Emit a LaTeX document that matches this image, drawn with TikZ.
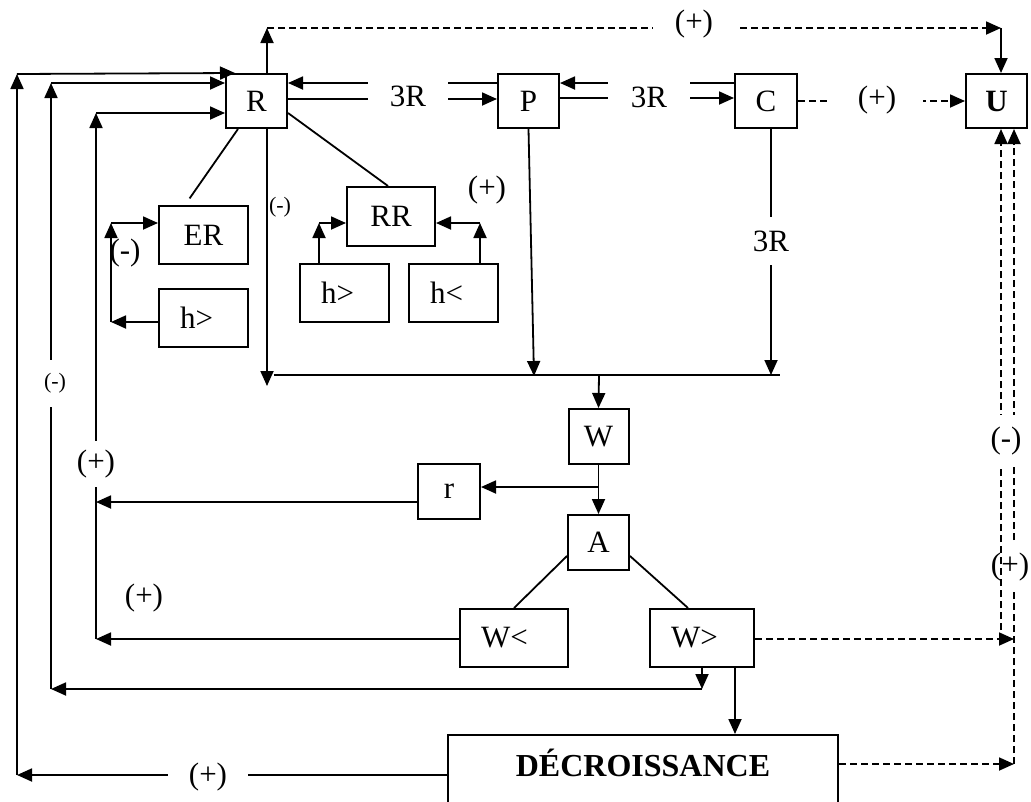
\documentclass[tikz,border=0pt]{standalone}
\usepackage{fontspec}
\setmainfont{Liberation Serif}
\usetikzlibrary{arrows.meta,calc}
\begin{document}
\begin{tikzpicture}[x=1pt,y=-1pt,
  line width=1.8pt,
  arr/.style={-{Triangle[length=15pt,width=13pt]}},
  dsh/.style={dash pattern=on 7pt off 4pt},
  box/.style={draw,line width=2pt,inner sep=0pt,font=\fontsize{31}{36}\selectfont},
  lbox/.style={box,align=left,text width=#1,inner xsep=21pt},
  lbl/.style={inner sep=0pt,font=\fontsize{31}{36}\selectfont},
  slbl/.style={inner sep=0pt,font=\fontsize{22}{26}\selectfont},
  gap/.style={fill=white}
]
\clip (0,0) rectangle (1031,801);

% boxes
\node[box,minimum width=61pt,minimum height=54pt] (R) at (256.5,101) {R};
\node[box,minimum width=61pt,minimum height=54pt] (P) at (528.5,101) {P};
\node[box,minimum width=62pt,minimum height=54pt] (C) at (766,101) {C};
\node[box,minimum width=61pt,minimum height=54pt,font=\fontsize{31}{36}\selectfont\bfseries] (U) at (996.5,101) {U};
\node[box,minimum width=89pt,minimum height=58pt] (ER) at (203.5,235) {ER};
\node[lbox=47pt,minimum height=58pt] (h1) at (203.5,318) {h>};
\node[box,minimum width=88pt,minimum height=59pt] (RR) at (391,216.5) {RR};
\node[lbox=47pt,minimum height=58pt] (h2) at (344.5,293) {h>};
\node[lbox=47pt,minimum height=58pt] (h3) at (453.5,293) {h<};
\node[box,minimum width=62pt,minimum height=55pt] (r) at (449,491.5) {r};
\node[box,minimum width=60pt,minimum height=55pt] (W) at (598.5,436.5) {W};
\node[box,minimum width=61pt,minimum height=55pt] (A) at (598.5,542.5) {A};
\node[lbox=66pt,minimum height=58pt] (Wl) at (514,638) {W<};
\node[lbox=62pt,minimum height=58pt] (Wg) at (702,638) {W>};
\node[box,minimum width=390pt,text height=41pt,text depth=45pt,anchor=base,
      font=\fontsize{32}{36}\selectfont\bfseries] (dec) at (643,776) {DÉCROISSANCE};

% helper coordinates
\coordinate (t1) at (267,28);
\coordinate (t2) at (1001,28);
\coordinate (busL) at (274,375);
\coordinate (busR) at (780,375);
\coordinate (busW) at (599,375);
\coordinate (o1) at (17,775);
\coordinate (o2) at (17,74);
\coordinate (m1) at (51,689);
\coordinate (m2) at (51,83);
\coordinate (i1) at (96,639);
\coordinate (i2) at (96,113);
\coordinate (e1) at (111,322);
\coordinate (e2) at (111,223);
\coordinate (g1) at (319,223);
\coordinate (g2) at (480,223);
\coordinate (v1) at (1001,630);
\coordinate (v2) at (1014,764);
\coordinate (v3) at (1014,590);
\coordinate (v4) at (1014,540);

% top dashed link R -> U
\draw[arr] ([xshift=10.5pt]R.north) -- (t1);
\draw[arr,dsh] (t1) -- (t2);
\draw[arr] (t2) -- (t2 |- U.north);

% R <-> P, P <-> C
\draw[arr] (P.west |- 0,83) -- (R.east |- 0,83);
\draw[arr] (R.east |- 0,99) -- (P.west |- 0,99);
\draw[arr] (C.west |- 0,83) -- (P.east |- 0,83);
\draw[arr] (P.east |- 0,98) -- (C.west |- 0,98);
\draw[arr,dsh] (C.east) -- (U.west);

% downward to the bus
\draw[arr] ([xshift=10.5pt]R.south) -- (267,386);
\draw (busL) -- (busR);
\draw[arr] (P.south) -- (534,376);
\draw[arr] ([xshift=5pt]C.south) -- ([xshift=5pt]C.south |- busR);
\draw[arr] (busW) -- (W.north);

% R to ER and RR
\draw[shorten >=8pt] ([xshift=-18.5pt]R.south) -- ([xshift=-18.5pt]ER.north);
\draw ([yshift=-12pt]R.east) -- ([xshift=-3pt]RR.north);

% h> -> ER
\draw[arr] (h1.west |- e1) -- (e1);
\draw[arr] (e1) -- (e2);
\draw[arr] (e2) -- (ER.west |- e2);

% h> , h< -> RR
\draw[arr] (g1 |- h2.north) -- (g1);
\draw[arr] (g1) -- (RR.west |- g1);
\draw[arr] (g2 |- h3.north) -- (g2);
\draw[arr] (g2) -- (RR.east |- g2);

% W, A, r
\draw[arr] (W.south) -- (A.north);
\draw[arr] (W.south |- 0,487) -- (r.east |- 0,487);
\draw ([yshift=15pt]A.south west) -- (Wl.north);
\draw ([yshift=15pt]A.south east) -- ([xshift=-14pt]Wg.north);
\draw[arr] ([xshift=33pt]Wg.south) -- ([xshift=33pt]Wg.south |- dec.north);

% left feedback loops
\draw[arr] (dec.west |- o1) -- (o1);
\draw[arr] (o1) -- (o2);
\draw[arr] (o2) -- ([xshift=10pt]R.north west);

\draw[arr] (Wg.south) -- (Wg.south |- m1);
\draw[arr] (Wg.south |- m1) -- (m1);
\draw[arr] (m1) -- (m2);
\draw[arr] (m2) -- (R.west |- m2);

\draw[arr] (r.west |- 0,502) -- (i1 |- 0,502);
\draw[arr] (Wl.west |- i1) -- (i1);
\draw[arr] (i1) -- (i2);
\draw[arr] (i2) -- (R.west |- i2);

% right dashed links to U
\draw[arr,dsh] (Wg.east |- 0,639) -- (1014,639);
\draw[arr,dsh] (v1) -- (v1 |- U.south);
\draw[arr,dsh] (dec.east |- v2) -- (v2);
\draw[dsh] (v2) -- (v3);
\draw[arr,dsh] (v4) -- (v4 |- U.south);

% labels
\node[lbl,gap,minimum width=80pt,minimum height=34pt] (l3a) at (408,96) {3R};
\node[lbl,gap,minimum width=82pt,minimum height=34pt] (l3b) at (649,97) {3R};
\node[lbl,gap,minimum width=92pt] (lcu) at (877,100) {(+)};
\node[lbl,gap,minimum width=83pt] (ltop) at (694,24) {(+)};
\node[lbl,gap,minimum height=48pt] (l3c) at (771,241) {3R};
\node[slbl] (lm1) at (280,207) {(-)};
\node[lbl] (lm2) at (125,253) {(-)};
\node[lbl] (lp1) at (487,190) {(+)};
\node[slbl,gap,minimum height=47pt] (lm3) at (55,383) {(-)};
\node[lbl,gap,minimum height=46pt] (lp2) at (96,464) {(+)};
\node[lbl] (lp3) at (144,598) {(+)};
\node[lbl,gap,minimum width=80pt] (lp4) at (208,777) {(+)};
\node[lbl,gap,minimum height=52pt,minimum width=34pt] (lm4) at (1006,441) {(-)};
\node[lbl,anchor=east] (lp5) at (1030,567) {(+)};
\end{tikzpicture}
\end{document}
